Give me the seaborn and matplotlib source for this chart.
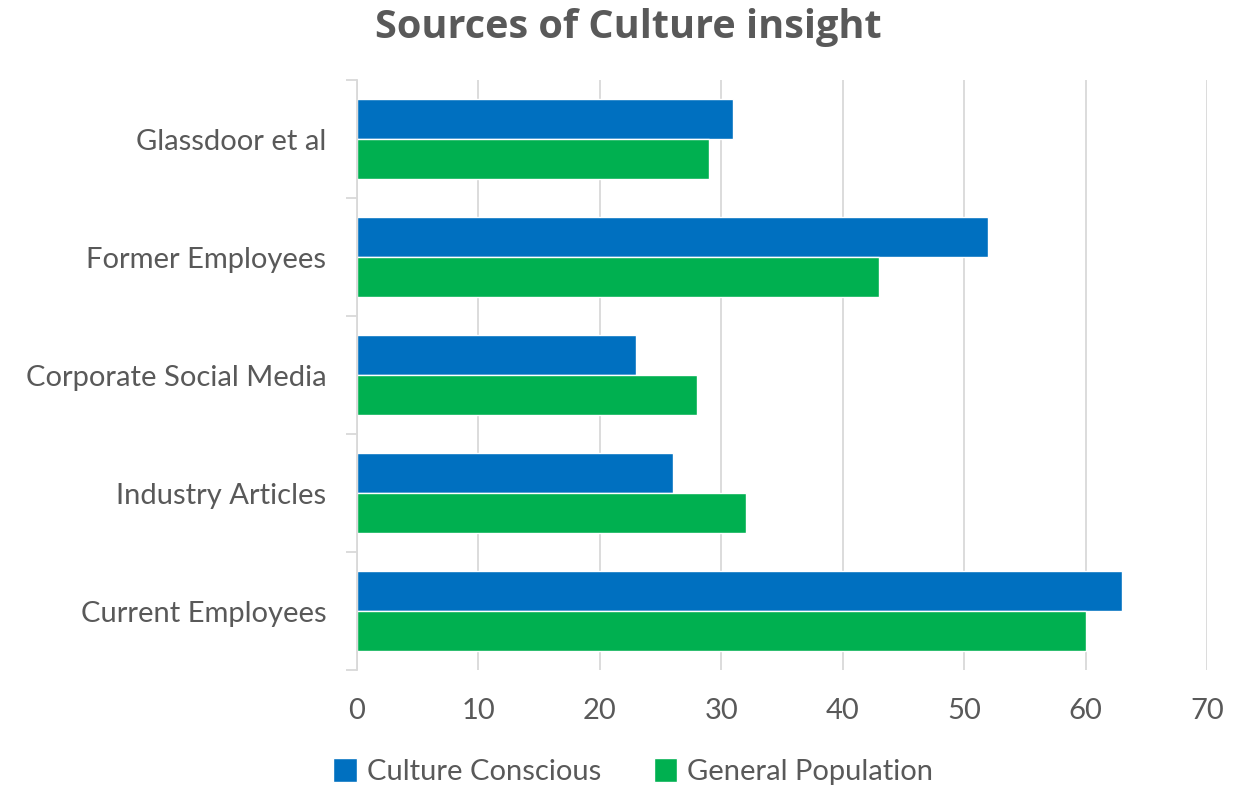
import matplotlib
matplotlib.use("Agg")
import matplotlib.pyplot as plt
import seaborn as sns
import pandas as pd
from matplotlib.ticker import FixedLocator

# data
sources = ["Glassdoor et al", "Former Employees", "Corporate Social Media",
           "Industry Articles", "Current Employees"]
culture_conscious = [31, 52, 23, 26, 63]
general_population = [29, 43, 28, 32, 60]
series_names = ["Culture Conscious", "General Population"]
x_ticks = [0, 10, 20, 30, 40, 50, 60, 70]

df = pd.DataFrame({
    "source": sources * 2,
    "value": culture_conscious + general_population,
    "group": [series_names[0]] * len(sources) + [series_names[1]] * len(sources),
})

sns.set_theme(style="white")
plt.rcParams["font.family"] = ["Lato", "DejaVu Sans"]

text_col = "#595959"
grid_col = "#D9D9D9"

fig = plt.figure(figsize=(12.42, 7.89), dpi=100)
ax = fig.add_axes([0.2874, 0.1508, 0.9718 - 0.2874, 0.8986 - 0.1508])

sns.barplot(data=df, y="source", x="value", hue="group", order=sources,
            hue_order=series_names, palette=["#0070C0", "#00B050"],
            orient="h", width=0.68, saturation=1, ax=ax, legend=True)

ax.set_xlim(0, 70)
ax.set_ylim(len(sources) - 0.5, -0.5)
ax.set_xticks(x_ticks)
ax.set_xlabel("")
ax.set_ylabel("")
ax.grid(axis="x", color=grid_col, linewidth=1.3)
ax.set_axisbelow(True)

for side in ["top", "right", "bottom"]:
    ax.spines[side].set_visible(False)
ax.spines["left"].set_color(grid_col)
ax.spines["left"].set_linewidth(1.3)

ax.yaxis.set_minor_locator(FixedLocator([i - 0.5 for i in range(len(sources) + 1)]))
ax.tick_params(axis="y", which="minor", length=8, width=1.3, color=grid_col, left=True)
ax.tick_params(axis="y", which="major", length=0, pad=22, labelsize=21, labelcolor=text_col)
ax.tick_params(axis="x", length=0, pad=20, labelsize=21, labelcolor=text_col)

fig.suptitle("Sources of Culture insight", x=0.506, y=0.99, fontsize=28.5,
             fontweight="bold", color=text_col, family=["Open Sans", "DejaVu Sans"])

ax.legend(loc="lower center", bbox_to_anchor=(0.325, -0.24), ncol=2, frameon=False,
          fontsize=21, labelcolor=text_col, handlelength=0.8, handleheight=0.9,
          handletextpad=0.35, columnspacing=1.8)

fig.savefig("out.png", dpi=100)
